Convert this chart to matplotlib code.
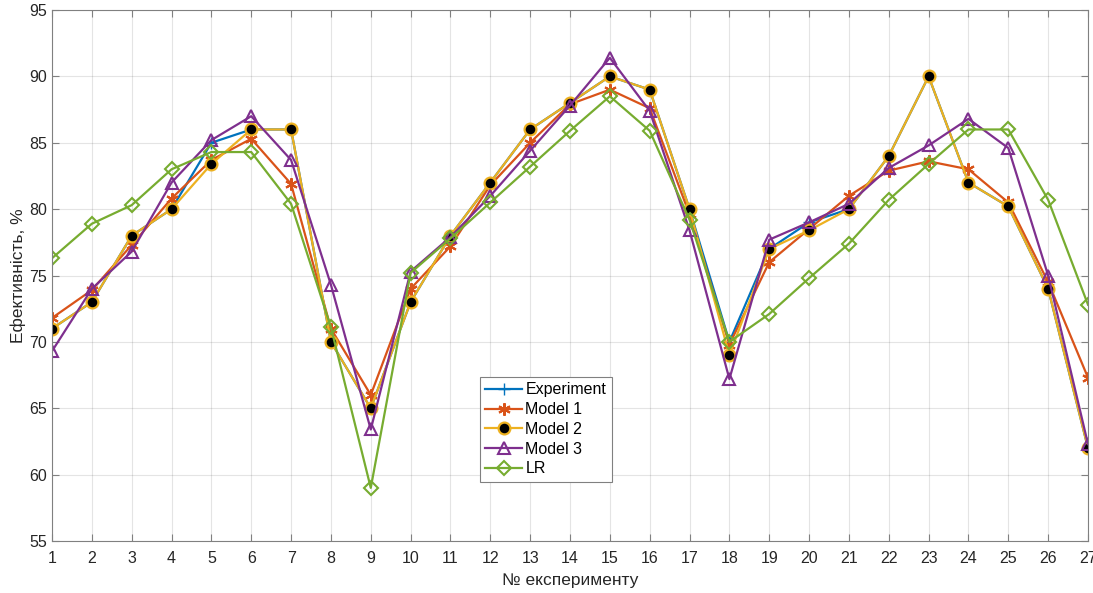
import matplotlib
matplotlib.use("Agg")
import matplotlib.pyplot as plt

plt.rcParams['font.family'] = ['Liberation Sans', 'DejaVu Sans']

experiments = list(range(1, 28))
experiment = [71, 73, 78, 80, 85, 86, 86, 70, 65, 73, 78, 82, 86, 88, 90, 89, 80, 70, 77, 79,
              80, 84, 90, 82, 80.2, 74, 62]
model1 = [71.8, 73.9, 77.3, 80.8, 83.7, 85.3, 81.9, 71.0, 66.0, 74.0, 77.2, 81.8, 85.0, 87.9,
          89.0, 87.6, 79.6, 69.8, 76.0, 78.5, 81.0, 82.9, 83.6, 83.0, 80.5, 74.5, 67.3]
model2 = [71, 73, 78, 80, 83.4, 86, 86, 70, 65, 73, 78, 82, 86, 88, 90, 89, 80, 69, 77, 78.4,
          80, 84, 90, 82, 80.2, 74, 62]
model3 = [69.3, 74.0, 76.8, 82.0, 85.2, 87.0, 83.7, 74.3, 63.4, 75.3, 77.9, 81.0, 84.4, 87.8,
          91.4, 87.4, 78.4, 67.2, 77.7, 79.0, 80.4, 83.1, 84.8, 86.8, 84.6, 75.0, 62.3]
lr = [76.3, 78.9, 80.3, 83.0, 84.3, 84.3, 80.4, 71.1, 59.0, 75.2, 77.8, 80.5, 83.2, 85.9,
      88.5, 85.9, 79.2, 70.0, 72.1, 74.8, 77.4, 80.7, 83.4, 86.0, 86.0, 80.7, 72.8]

fig = plt.figure(figsize=(10.93, 5.93), dpi=100)
ax = fig.add_axes([52 / 1093, 52 / 593, 1036 / 1093, 531 / 593])

lw = 1.6
asterisk = (6, 2, 0)
ax.plot(experiments, experiment, color='#0072BD', marker='+', ms=8, lw=lw, label='Experiment')
ax.plot(experiments, model1, color='#D95319', marker=asterisk, ms=9, lw=lw,
        mew=1.5, label='Model 1')
ax.plot(experiments, model2, color='#EDB120', marker='o', ms=8.5, lw=lw,
        mfc='black', mec='#EDB120', mew=1.6, label='Model 2')
ax.plot(experiments, model3, color='#7E2F8E', marker='^', ms=9, lw=lw,
        mfc='none', mew=1.5, label='Model 3')
ax.plot(experiments, lr, color='#77AC30', marker='D', ms=7.5, lw=lw,
        mfc='none', mew=1.5, label='LR')

ax.set_xlim(1, 27)
ax.set_ylim(55, 95)
ax.set_xticks(experiments)
ax.set_yticks(range(55, 96, 5))
ax.grid(True, color='#262626', alpha=0.12, lw=0.8)
ax.tick_params(axis='both', direction='in', top=True, right=True, labelsize=11.5,
               colors='#808080', labelcolor='#262626', length=5)
ax.tick_params(axis='x', pad=7)
for s in ax.spines.values():
    s.set_color('#808080')
    s.set_linewidth(0.8)

ax.set_xlabel('№ експерименту', fontsize=12.5, color='#262626', labelpad=5)
ax.set_ylabel('Ефективність, %', fontsize=12.5, color='#262626', labelpad=2)

leg = ax.legend(loc='lower left', bbox_to_anchor=(0.413, 0.111), fontsize=11.5,
                frameon=True, fancybox=False, edgecolor='#808080', framealpha=1,
                handlelength=2.3, handletextpad=0.2, borderpad=0.35, labelspacing=0.3,
                borderaxespad=0)
leg.get_frame().set_linewidth(0.8)

fig.savefig('out.png', dpi=100)
